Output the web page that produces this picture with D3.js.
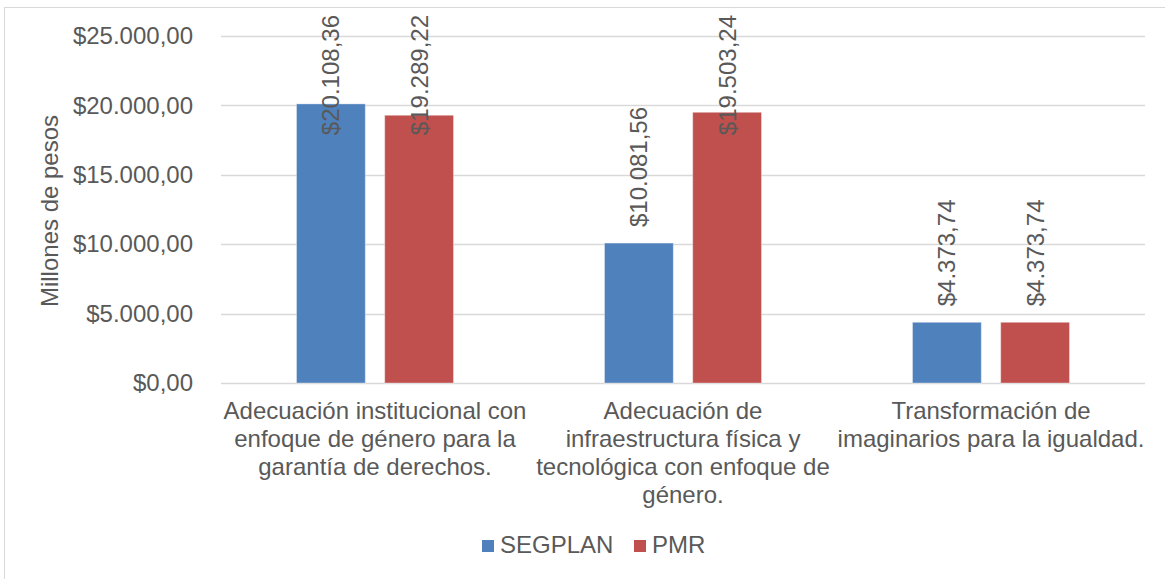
<!DOCTYPE html>
<html>
<head>
<meta charset="utf-8">
<script src="https://cdn.jsdelivr.net/npm/d3@7"></script>
<style>
  body { margin: 0; background: #fff; }
  text { font-family: "Liberation Sans", Arial, sans-serif; fill: #595959; }
</style>
</head>
<body>
<script>
//chart data
var categories = [
    ["Adecuación institucional con", "enfoque de género para la", "garantía de derechos."],
    ["Adecuación de", "infraestructura física y", "tecnológica con enfoque de", "género."],
    ["Transformación de", "imaginarios para la igualdad."]
];
var seriesNames = ["SEGPLAN", "PMR"];
var segplanValues = [20108.36, 10081.56, 4373.74];
var pmrValues = [19289.22, 19503.24, 4373.74];
var yTicks = [0, 5000, 10000, 15000, 20000, 25000];
var yTitle = "Millones de pesos";

var colors = ["#4f81bd", "#c0504d"];

var width = 1165, height = 579;
var fontSize = 24;

//spanish number format
var locale = d3.formatLocale({decimal: ",", thousands: ".", grouping: [3], currency: ["$", ""]});
var fmt = locale.format("$,.2f");

var svg = d3.select("body")
    .append("svg")
    .attr("width", width)
    .attr("height", height);

//outer chart border
svg.append("rect")
    .attr("x", 4.5)
    .attr("y", 7.5)
    .attr("width", width)
    .attr("height", height)
    .attr("fill", "none")
    .attr("stroke", "#d9d9d9");

var plotLeft = 221, plotRight = 1145, plotTop = 36, plotBottom = 383;

var x = d3.scaleBand()
    .domain(d3.range(categories.length))
    .range([plotLeft, plotRight]);

var x1 = d3.scaleBand()
    .domain(d3.range(seriesNames.length))
    .range([75.5, x.bandwidth() - 75.5])
    .paddingInner(0.22);

var y = d3.scaleLinear()
    .domain([0, 25000])
    .range([plotBottom, plotTop]);

//gridlines
svg.selectAll(".grid")
    .data(yTicks)
    .enter()
    .append("line")
    .attr("x1", plotLeft)
    .attr("x2", plotRight)
    .attr("y1", function(d){ return Math.round(y(d)) + 0.5; })
    .attr("y2", function(d){ return Math.round(y(d)) + 0.5; })
    .attr("stroke", "#d9d9d9")
    .attr("stroke-width", 1.5);

//y axis labels
var yAxis = d3.axisLeft(y)
    .tickValues(yTicks)
    .tickSize(0)
    .tickPadding(28)
    .tickFormat(fmt);

var axis = svg.append("g")
    .attr("transform", "translate(" + plotLeft + ",0)")
    .call(yAxis);
axis.select(".domain").remove();
axis.selectAll("text")
    .attr("font-size", fontSize)
    .attr("font-family", null)
    .attr("fill", "#595959");

//y axis title
svg.append("text")
    .attr("transform", "translate(50,211) rotate(-90)")
    .attr("text-anchor", "middle")
    .attr("dy", "0.35em")
    .attr("font-size", fontSize)
    .text(yTitle);

//bars
var data = [];
categories.forEach(function(c, i){
    data.push({cat: i, s: 0, v: segplanValues[i]});
    data.push({cat: i, s: 1, v: pmrValues[i]});
});

svg.selectAll(".bar")
    .data(data)
    .enter()
    .append("rect")
    .attr("class", "bar")
    .attr("x", function(d){ return x(d.cat) + x1(d.s); })
    .attr("y", function(d){ return y(d.v); })
    .attr("width", x1.bandwidth())
    .attr("height", function(d){ return plotBottom - y(d.v); })
    .attr("fill", function(d){ return colors[d.s]; })
    .attr("stroke", "rgba(255,255,255,0.35)")
    .attr("stroke-width", 1);

//value labels (rotated)
svg.selectAll(".lbl")
    .data(data)
    .enter()
    .append("text")
    .attr("class", "lbl")
    .attr("font-size", fontSize)
    .attr("fill", "#404040")
    .text(function(d){ return fmt(d.v); })
    .each(function(d){
        var len = this.getComputedTextLength();
        var cx = x(d.cat) + x1(d.s) + x1.bandwidth() / 2;
        var startY = Math.max(y(d.v) - 16, 15 + len);
        d3.select(this)
            .attr("transform", "translate(" + cx + "," + startY + ") rotate(-90)")
            .attr("dy", "0.35em");
    });

//category labels
var catLabels = svg.selectAll(".cat")
    .data(categories)
    .enter()
    .append("text")
    .attr("class", "cat")
    .attr("text-anchor", "middle")
    .attr("font-size", fontSize);

catLabels.selectAll("tspan")
    .data(function(d, i){ return d.map(function(l){ return {line: l, cat: i}; }); })
    .enter()
    .append("tspan")
    .attr("x", function(d){ return x(d.cat) + x.bandwidth() / 2; })
    .attr("y", function(d, j){ return 419 + j * 28; })
    .text(function(d){ return d.line; });

//legend
var legendX = [482, 634];
var legend = svg.selectAll(".legend")
    .data(seriesNames)
    .enter()
    .append("g")
    .attr("transform", function(d, i){ return "translate(" + legendX[i] + ",0)"; });

legend.append("rect")
    .attr("y", 540)
    .attr("width", 12)
    .attr("height", 12)
    .attr("fill", function(d, i){ return colors[i]; });

legend.append("text")
    .attr("x", 18)
    .attr("y", 553)
    .attr("font-size", fontSize)
    .text(function(d){ return d; });
</script>
</body>
</html>
